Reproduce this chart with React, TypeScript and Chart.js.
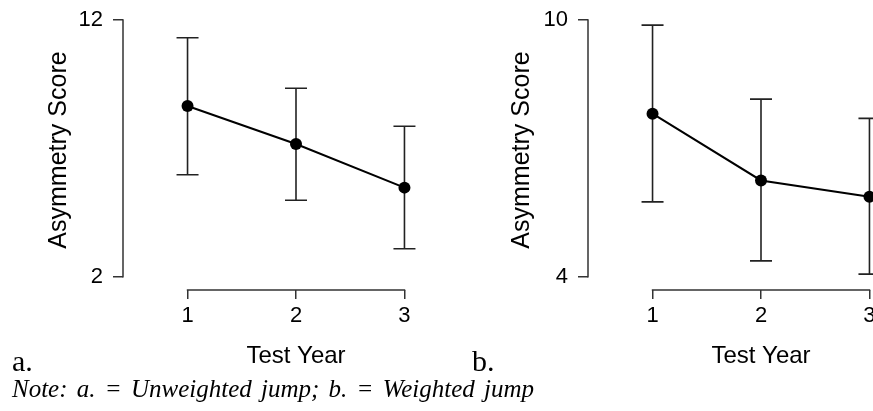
import React, { useEffect, useRef } from "react";
import { Chart, registerables } from "chart.js";

Chart.register(...registerables);

// ---- data ----
const YEARS = [1, 2, 3];
const X_TICKS = [1, 2, 3];

const A_MEAN = [8.65, 7.17, 5.47];
const A_LOW = [5.97, 4.98, 3.09];
const A_HIGH = [11.31, 9.34, 7.86];
const A_YTICKS = [2, 12];

const B_MEAN = [7.81, 6.25, 5.87];
const B_LOW = [5.75, 4.37, 4.06];
const B_HIGH = [9.88, 8.15, 7.7];
const B_YTICKS = [4, 10];

const X_TITLE = "Test Year";
const Y_TITLE = "Asymmetry Score";
const NOTE = "Note: a. = Unweighted jump; b. = Weighted jump";

const SANS = "'Liberation Sans', Arial, sans-serif";
const SERIF = "'Liberation Serif', 'Times New Roman', serif";
const AXIS_COLOR = "#333";

const errorBarPlugin = {
  id: "errorBars",
  beforeDatasetsDraw(chart: any) {
    const { ctx } = chart;
    const xs = chart.scales.x;
    const ys = chart.scales.y;
    chart.data.datasets.forEach((ds: any) => {
      if (!ds.low || !ds.high) return;
      ctx.save();
      ctx.strokeStyle = "#222";
      ctx.lineWidth = 1.6;
      ds.data.forEach((p: any, i: number) => {
        const px = xs.getPixelForValue(p.x);
        const lo = ys.getPixelForValue(ds.low[i]);
        const hi = ys.getPixelForValue(ds.high[i]);
        const cap = 11;
        ctx.beginPath();
        ctx.moveTo(px, lo);
        ctx.lineTo(px, hi);
        ctx.moveTo(px - cap, lo);
        ctx.lineTo(px + cap, lo);
        ctx.moveTo(px - cap, hi);
        ctx.lineTo(px + cap, hi);
        ctx.stroke();
      });
      ctx.restore();
    });
  },
};

const rAxisPlugin = {
  id: "rAxis",
  afterDraw(chart: any) {
    const { ctx, chartArea } = chart;
    const xs = chart.scales.x;
    const ys = chart.scales.y;
    const yv = ys.ticks.map((t: any) => t.value);
    const xv = xs.ticks.map((t: any) => t.value);
    ctx.save();
    ctx.strokeStyle = AXIS_COLOR;
    ctx.lineWidth = 1.5;
    ctx.beginPath();
    ctx.moveTo(chartArea.left, ys.getPixelForValue(Math.min(...yv)) + 0.75);
    ctx.lineTo(chartArea.left, ys.getPixelForValue(Math.max(...yv)) - 0.75);
    ctx.moveTo(xs.getPixelForValue(Math.min(...xv)) - 0.75, chartArea.bottom);
    ctx.lineTo(xs.getPixelForValue(Math.max(...xv)) + 0.75, chartArea.bottom);
    ctx.stroke();
    ctx.restore();
  },
};

interface PanelProps {
  left: number;
  width: number;
  yAxisWidth: number;
  yTitlePad: number;
  yMin: number;
  yMax: number;
  yTicks: number[];
  mean: number[];
  low: number[];
  high: number[];
}

function Panel(p: PanelProps) {
  const ref = useRef<HTMLCanvasElement | null>(null);
  useEffect(() => {
    if (!ref.current) return;
    const chart = new Chart(ref.current, {
      type: "line",
      data: {
        datasets: [
          {
            data: YEARS.map((x, i) => ({ x, y: p.mean[i] })),
            low: p.low,
            high: p.high,
            borderColor: "#000",
            borderWidth: 2,
            pointRadius: 6,
            pointHoverRadius: 6,
            pointBackgroundColor: "#000",
            pointBorderColor: "#000",
            pointBorderWidth: 0,
            tension: 0,
            fill: false,
            clip: false,
          } as any,
        ],
      },
      options: {
        animation: false,
        responsive: false,
        devicePixelRatio: 1,
        events: [],
        layout: { padding: { top: 10, right: 0, bottom: 0, left: 0 } },
        plugins: { legend: { display: false }, tooltip: { enabled: false } },
        scales: {
          x: {
            type: "linear",
            min: 0.405,
            max: 3.595,
            afterBuildTicks: (s: any) => {
              s.ticks = X_TICKS.map((v) => ({ value: v }));
            },
            afterFit: (s: any) => {
              s.height = 121;
              s.paddingLeft = 0;
              s.paddingRight = 0;
              s.paddingTop = 0;
              s.paddingBottom = 0;
            },
            border: { display: false },
            grid: {
              display: true,
              drawOnChartArea: false,
              drawTicks: true,
              tickLength: 9,
              color: AXIS_COLOR,
              lineWidth: 1.5,
            },
            ticks: {
              autoSkip: false,
              maxRotation: 0,
              padding: 4,
              color: "#000",
              font: { family: SANS, size: 22 },
            },
            title: {
              display: true,
              text: X_TITLE,
              color: "#000",
              font: { family: SANS, size: 24 },
              padding: { top: 0, bottom: 40 },
            },
          },
          y: {
            type: "linear",
            min: p.yMin,
            max: p.yMax,
            afterBuildTicks: (s: any) => {
              s.ticks = p.yTicks.map((v) => ({ value: v }));
            },
            afterFit: (s: any) => {
              s.width = p.yAxisWidth;
              s.paddingLeft = 0;
              s.paddingRight = 0;
              s.paddingTop = 0;
              s.paddingBottom = 0;
            },
            border: { display: false },
            grid: {
              display: true,
              drawOnChartArea: false,
              drawTicks: true,
              tickLength: 10,
              color: AXIS_COLOR,
              lineWidth: 1.5,
            },
            ticks: {
              padding: 10,
              color: "#000",
              font: { family: SANS, size: 22 },
            },
            title: {
              display: true,
              text: Y_TITLE,
              color: "#000",
              font: { family: SANS, size: 25 },
              padding: { top: p.yTitlePad, bottom: 0 },
            },
          },
        },
      },
      plugins: [errorBarPlugin, rAxisPlugin],
    } as any);
    return () => chart.destroy();
  }, []);
  return (
    <canvas
      ref={ref}
      width={p.width}
      height={411}
      style={{ position: "absolute", left: p.left, top: 0, width: p.width, height: 411 }}
    />
  );
}

export default function App() {
  const txt: React.CSSProperties = {
    position: "absolute",
    margin: 0,
    lineHeight: 1,
    whiteSpace: "nowrap",
    color: "#000",
    fontFamily: SERIF,
  };
  return (
    <div
      style={{
        position: "fixed",
        left: 0,
        top: 0,
        width: 873,
        height: 411,
        overflow: "hidden",
        background: "#fff",
      }}
    >
      <Panel
        left={0}
        width={475}
        yAxisWidth={123}
        yTitlePad={44}
        yMin={1.482}
        yMax={12.39}
        yTicks={A_YTICKS}
        mean={A_MEAN}
        low={A_LOW}
        high={A_HIGH}
      />
      <Panel
        left={440}
        width={500}
        yAxisWidth={148}
        yTitlePad={67.5}
        yMin={3.689}
        yMax={10.234}
        yTicks={B_YTICKS}
        mean={B_MEAN}
        low={B_LOW}
        high={B_HIGH}
      />
      <div style={{ ...txt, left: 12, top: 346, fontSize: 30 }}>a.</div>
      <div style={{ ...txt, left: 472, top: 346, fontSize: 30 }}>b.</div>
      <div style={{ ...txt, left: 12, top: 376, fontSize: 25, fontStyle: "italic", wordSpacing: 3 }}>{NOTE}</div>
    </div>
  );
}
